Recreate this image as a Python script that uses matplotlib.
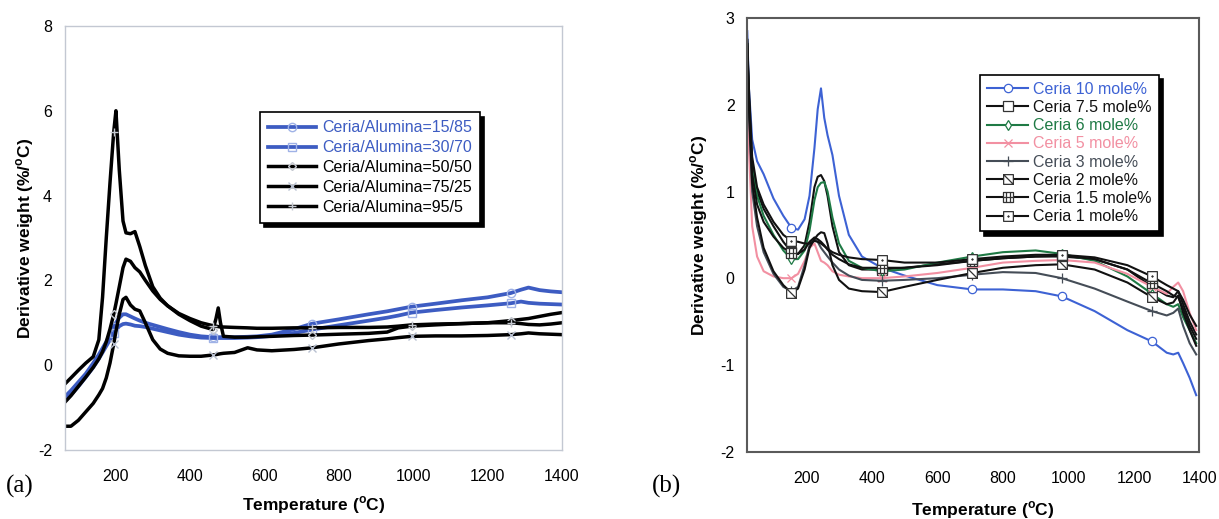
import matplotlib
matplotlib.use("Agg")
import matplotlib.pyplot as plt
from matplotlib.path import Path

plt.rcParams['font.family'] = ['Liberation Sans', 'DejaVu Sans']
plt.rcParams['axes.unicode_minus'] = False
plt.rcParams['mathtext.fontset'] = 'custom'
plt.rcParams['mathtext.rm'] = 'Liberation Sans'
plt.rcParams['mathtext.bf'] = 'Liberation Sans:bold'

# ---- panel (a): ceria/alumina ratio ----
temp_a = [63, 80, 100, 120, 140, 155, 165, 175, 185, 195, 201, 210, 220, 228, 240, 252, 265,
          280, 300, 320, 340, 370, 400, 430, 462, 470, 476, 482, 490, 520, 555, 580, 620, 680,
          729, 800, 880, 930, 960, 996, 1060, 1130, 1200, 1262, 1290, 1310, 1340, 1370, 1400]
ca_15_85 = [-0.75, -0.6, -0.4, -0.2, 0.05, 0.25, 0.4, 0.55, 0.72, 0.9, 1.0, 1.12, 1.2, 1.2, 1.15,
            1.1, 1.05, 1.0, 0.95, 0.9, 0.85, 0.78, 0.72, 0.68, 0.66, 0.66, 0.66, 0.66, 0.66, 0.66,
            0.67, 0.68, 0.72, 0.85, 0.98, 1.08, 1.2, 1.27, 1.32, 1.38, 1.45, 1.53, 1.6, 1.7, 1.78,
            1.83, 1.77, 1.74, 1.72]
ca_30_70 = [-0.85, -0.7, -0.5, -0.28, -0.05, 0.15, 0.3, 0.45, 0.6, 0.75, 0.83, 0.92, 0.97, 0.98,
            0.96, 0.93, 0.92, 0.9, 0.86, 0.82, 0.78, 0.72, 0.68, 0.65, 0.64, 0.64, 0.64, 0.64, 0.64,
            0.64, 0.65, 0.66, 0.69, 0.76, 0.84, 0.94, 1.05, 1.12, 1.17, 1.24, 1.3, 1.36, 1.41, 1.46,
            1.5, 1.47, 1.45, 1.44, 1.43]
ca_50_50 = [-0.88, -0.72, -0.5, -0.28, -0.05, 0.15, 0.32, 0.55, 0.85, 1.2, 1.45, 1.85, 2.3, 2.5,
            2.45, 2.3, 2.2, 2.0, 1.75, 1.55, 1.4, 1.2, 1.05, 0.92, 0.84, 1.1, 1.35, 1.0, 0.68, 0.66,
            0.66, 0.67, 0.68, 0.7, 0.71, 0.73, 0.75, 0.78, 0.88, 0.92, 0.95, 0.98, 1.0, 1.05, 1.08,
            1.1, 1.15, 1.2, 1.24]
ca_75_25 = [-1.44, -1.44, -1.3, -1.1, -0.9, -0.7, -0.55, -0.3, 0.05, 0.5, 0.8, 1.2, 1.55, 1.6,
            1.42, 1.32, 1.28, 1.0, 0.6, 0.38, 0.28, 0.22, 0.21, 0.21, 0.24, 0.25, 0.26, 0.27, 0.28,
            0.3, 0.41, 0.36, 0.34, 0.37, 0.41, 0.5, 0.58, 0.62, 0.65, 0.68, 0.69, 0.69, 0.7, 0.72,
            0.74, 0.76, 0.74, 0.73, 0.72]
ca_95_5 = [-0.45, -0.3, -0.12, 0.05, 0.2, 0.6, 1.6, 3.0, 4.3, 5.5, 6.0, 4.6, 3.4, 3.12, 3.1,
           3.15, 2.8, 2.35, 1.85, 1.58, 1.4, 1.22, 1.1, 1.0, 0.93, 0.92, 0.91, 0.9, 0.9, 0.89,
           0.88, 0.87, 0.87, 0.88, 0.88, 0.89, 0.89, 0.9, 0.92, 0.95, 0.97, 0.98, 1.0, 1.0, 0.98,
           0.96, 0.95, 0.97, 1.0]
marks_a = [195, 462, 729, 996, 1262]
labels_a = ["Ceria/Alumina=15/85", "Ceria/Alumina=30/70", "Ceria/Alumina=50/50",
            "Ceria/Alumina=75/25", "Ceria/Alumina=95/5"]

# ---- panel (b): ceria mole% ----
temp_b = [20, 25, 35, 50, 70, 100, 130, 155, 175, 195, 210, 225, 235, 245, 255, 265, 280, 300,
          330, 370, 430, 500, 600, 707, 800, 900, 980, 1080, 1180, 1255, 1300, 1320, 1335, 1350,
          1370, 1390]
ce_10 = [2.85, 2.2, 1.6, 1.35, 1.2, 0.92, 0.72, 0.58, 0.56, 0.68, 0.95, 1.5, 1.95, 2.19, 1.85,
         1.65, 1.42, 0.95, 0.5, 0.25, 0.12, 0.03, -0.08, -0.13, -0.13, -0.15, -0.21, -0.38, -0.6,
         -0.73, -0.86, -0.88, -0.86, -0.98, -1.15, -1.35]
ce_7_5 = [2.75, 2.1, 1.3, 1.0, 0.8, 0.6, 0.42, 0.3, 0.28, 0.38, 0.65, 1.05, 1.17, 1.19, 1.12,
          0.95, 0.6, 0.3, 0.15, 0.1, 0.1, 0.12, 0.16, 0.2, 0.23, 0.25, 0.25, 0.22, 0.1, -0.1, -0.2,
          -0.22, -0.15, -0.3, -0.5, -0.65]
ce_6 = [2.7, 2.0, 1.25, 0.95, 0.72, 0.5, 0.32, 0.22, 0.22, 0.32, 0.55, 0.9, 1.05, 1.1, 1.11,
        1.0, 0.7, 0.4, 0.2, 0.12, 0.08, 0.1, 0.18, 0.25, 0.3, 0.32, 0.28, 0.2, 0.02, -0.18, -0.3,
        -0.33, -0.3, -0.45, -0.6, -0.75]
ce_5 = [2.65, 1.5, 0.6, 0.25, 0.08, 0.02, 0.0, 0.0, 0.05, 0.2, 0.35, 0.4, 0.3, 0.2, 0.18, 0.15,
        0.08, 0.04, 0.02, 0.0, 0.0, 0.02, 0.06, 0.12, 0.18, 0.2, 0.21, 0.18, 0.05, -0.1, -0.18,
        -0.1, -0.05, -0.15, -0.4, -0.6]
ce_3 = [2.65, 1.9, 1.0, 0.6, 0.3, 0.05, -0.1, -0.15, -0.1, 0.15, 0.38, 0.45, 0.42, 0.35, 0.3,
        0.25, 0.18, 0.1, 0.03, -0.02, -0.03, -0.02, 0.0, 0.04, 0.07, 0.06, 0.0, -0.12, -0.27,
        -0.38, -0.43, -0.4, -0.35, -0.55, -0.75, -0.88]
ce_2 = [2.7, 2.0, 1.1, 0.7, 0.35, 0.08, -0.08, -0.17, -0.12, 0.1, 0.35, 0.45, 0.5, 0.53, 0.52,
        0.4, 0.15, -0.02, -0.12, -0.15, -0.16, -0.1, -0.02, 0.06, 0.12, 0.15, 0.16, 0.1, -0.05,
        -0.22, -0.3, -0.28, -0.2, -0.4, -0.6, -0.78]
ce_1_5 = [2.7, 2.1, 1.2, 0.85, 0.65, 0.48, 0.35, 0.29, 0.28, 0.33, 0.42, 0.47, 0.45, 0.42, 0.38,
          0.33, 0.27, 0.22, 0.16, 0.12, 0.12, 0.12, 0.15, 0.2, 0.23, 0.25, 0.26, 0.22, 0.1, -0.06,
          -0.15, -0.2, -0.22, -0.35, -0.55, -0.7]
ce_1 = [2.75, 2.2, 1.4, 1.05, 0.85, 0.65, 0.5, 0.43, 0.42, 0.4, 0.4, 0.43, 0.42, 0.4, 0.37,
        0.34, 0.3, 0.27, 0.24, 0.22, 0.21, 0.18, 0.18, 0.22, 0.25, 0.27, 0.27, 0.24, 0.15, 0.02,
        -0.08, -0.12, -0.15, -0.25, -0.42, -0.55]
marks_b = [155, 430, 707, 980, 1255]
labels_b = ["Ceria 10 mole%", "Ceria 7.5 mole%", "Ceria 6 mole%", "Ceria 5 mole%",
            "Ceria 3 mole%", "Ceria 2 mole%", "Ceria 1.5 mole%", "Ceria 1 mole%"]


def square_marker(extra):
    # square outline plus inner strokes (Excel style patterned squares)
    verts = [(-1, -1), (1, -1), (1, 1), (-1, 1), (-1, -1)]
    codes = [Path.MOVETO, Path.LINETO, Path.LINETO, Path.LINETO, Path.CLOSEPOLY]
    for a, b in extra:
        verts += [a, b]
        codes += [Path.MOVETO, Path.LINETO]
    return Path(verts, codes)


sq_diag = square_marker([((-1, 1), (1, -1))])
sq_bars = square_marker([((-0.35, -1), (-0.35, 1)), ((0.35, -1), (0.35, 1)), ((-1, 0), (1, 0))])
sq_dot = square_marker([((-0.15, -0.15), (0.15, 0.15)), ((-0.15, 0.15), (0.15, -0.15))])

fig = plt.figure(figsize=(12.19, 5.19), dpi=100)
ax_a = fig.add_axes([0.053, 0.133, 0.408, 0.817])
ax_b = fig.add_axes([0.613, 0.130, 0.371, 0.835])

# ---- draw (a) ----
blue_a = "#3d5cc2"
style_a = [
    (ca_15_85, blue_a, 2.7, 'o', "#9fb2e6"),
    (ca_30_70, blue_a, 2.7, 's', "#9fb2e6"),
    (ca_50_50, "black", 2.5, 'D', "#c4c8d0"),
    (ca_75_25, "black", 2.5, 'x', "#b8c0d0"),
    (ca_95_5, "black", 2.5, '+', "#c4c8d0"),
]
idx_a = [temp_a.index(t) for t in marks_a]
for (ys, col, lw, mk, mcol), lab in zip(style_a, labels_a):
    ax_a.plot(temp_a, ys, color=col, lw=lw, marker=mk, markevery=idx_a,
              markersize=6 if mk != 'D' else 4, markerfacecolor='none',
              markeredgecolor=mcol, markeredgewidth=1.0, label=lab)

ax_a.set_xlim(63, 1400)
ax_a.set_ylim(-2, 8)
ax_a.set_xticks(range(200, 1401, 200))
ax_a.set_yticks(range(-2, 9, 2))
for sp in ax_a.spines.values():
    sp.set_color("#c3c8d2")
    sp.set_linewidth(1.0)
ax_a.tick_params(length=0, labelsize=11.5, pad=9)
ax_a.tick_params(axis='x', pad=14)
ax_a.set_xlabel(r"Temperature ($^{\mathbf{o}}$C)", fontsize=12.5, fontweight='bold')
ax_a.set_ylabel(r"Derivative weight (%/$^{\mathbf{o}}$C)", fontsize=12.5, fontweight='bold')
ax_a.xaxis.set_label_coords(0.5, -0.105)
ax_a.yaxis.set_label_coords(-0.058, 0.5)

leg_a = ax_a.legend(loc='upper left', bbox_to_anchor=(0.377, 0.815), fontsize=11.5,
                    frameon=True, fancybox=False, handlelength=3.0, handletextpad=0.4,
                    labelspacing=0.3, borderpad=0.5,
                    shadow={'color': 'black', 'alpha': 1.0, 'ox': 3, 'oy': -3})
leg_a.get_frame().set_edgecolor('black')
leg_a.get_frame().set_linewidth(1.2)
for txt, (_, col, _, _, _) in zip(leg_a.get_texts(), style_a):
    txt.set_color(col)

# ---- draw (b) ----
style_b = [
    (ce_10, "#3d62d4", 'o', "#3d62d4", 6),
    (ce_7_5, "#111111", 's', "#333333", 7),
    (ce_6, "#1f7a45", 'd', "#1f7a45", 5),
    (ce_5, "#f290a2", 'x', "#f290a2", 6),
    (ce_3, "#454d57", '+', "#454d57", 7),
    (ce_2, "#111111", sq_diag, "#333333", 7),
    (ce_1_5, "#111111", sq_bars, "#333333", 7),
    (ce_1, "#111111", sq_dot, "#333333", 7),
]
idx_b = [temp_b.index(t) for t in marks_b]
for (ys, col, mk, mcol, ms), lab in zip(style_b, labels_b):
    ax_b.plot(temp_b, ys, color=col, lw=1.5, marker=mk, markevery=idx_b, markersize=ms,
              markerfacecolor='white', markeredgecolor=mcol, markeredgewidth=0.9, label=lab)

ax_b.set_xlim(20, 1400)
ax_b.set_ylim(-2, 3)
ax_b.set_xticks(range(200, 1401, 200))
ax_b.set_yticks(range(-2, 4, 1))
for sp in ax_b.spines.values():
    sp.set_color("#5a5a5a")
    sp.set_linewidth(1.5)
ax_b.tick_params(length=0, labelsize=11.5, pad=9)
ax_b.tick_params(axis='x', pad=14)
ax_b.set_xlabel(r"Temperature ($^{\mathbf{o}}$C)", fontsize=12.5, fontweight='bold')
ax_b.set_ylabel(r"Derivative weight (%/$^{\mathbf{o}}$C)", fontsize=12.5, fontweight='bold')
ax_b.xaxis.set_label_coords(0.52, -0.11)
ax_b.yaxis.set_label_coords(-0.082, 0.5)

leg_b = ax_b.legend(loc='upper left', bbox_to_anchor=(0.496, 0.888), fontsize=11.5,
                    frameon=True, fancybox=False, handlelength=2.6, handletextpad=0.3,
                    labelspacing=0.2, borderpad=0.45,
                    shadow={'color': 'black', 'alpha': 1.0, 'ox': 3, 'oy': -3})
leg_b.get_frame().set_edgecolor('black')
leg_b.get_frame().set_linewidth(1.2)
for txt, (_, col, _, _, _) in zip(leg_b.get_texts(), style_b):
    txt.set_color(col)

fig.text(0.005, 0.062, "(a)", fontsize=18, family='Liberation Serif', va='center')
fig.text(0.535, 0.062, "(b)", fontsize=18, family='Liberation Serif', va='center')

fig.savefig("out.png", dpi=100)
